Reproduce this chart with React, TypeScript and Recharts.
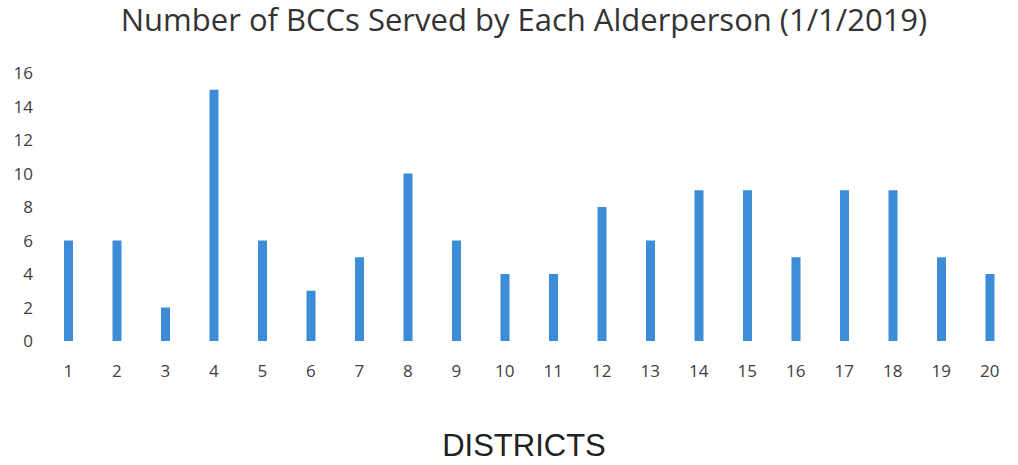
import React from "react";
import { BarChart, Bar, XAxis, YAxis } from "recharts";

const districts = ["1","2","3","4","5","6","7","8","9","10","11","12","13","14","15","16","17","18","19","20"];
const bccCounts = [6, 6, 2, 15, 6, 3, 5, 10, 6, 4, 4, 8, 6, 9, 9, 5, 9, 9, 5, 4];
const yTicks = [0, 2, 4, 6, 8, 10, 12, 14, 16];
const title = "Number of BCCs Served by Each Alderperson (1/1/2019)";
const xTitle = "DISTRICTS";

const data = districts.map((d, i) => ({ district: d, count: bccCounts[i] }));

export default function App() {
  return (
    <div style={{ position: "absolute", left: 0, top: 0, width: 1018, height: 465, background: "#fff", fontFamily: "'Open Sans', sans-serif" }}>
      <div style={{ position: "absolute", left: 0, width: 1048, top: -2, textAlign: "center", fontSize: 31, color: "#333", whiteSpace: "nowrap" }}>{title}</div>
      <BarChart width={1018} height={465} data={data} margin={{ top: 73, right: 4, bottom: 94, left: 0 }}>
        <XAxis dataKey="district" axisLine={false} tickLine={false} tickSize={0} tickMargin={24} interval={0}
          tick={{ fill: "#404040", fontSize: 17, fontFamily: "'Open Sans', sans-serif" }} />
        <YAxis domain={[0, 16]} ticks={yTicks} width={44} axisLine={false} tickLine={false} tickSize={0} tickMargin={11}
          tick={{ fill: "#404040", fontSize: 17, fontFamily: "'Open Sans', sans-serif" }} />
        <Bar dataKey="count" fill="#3d8cd8" barSize={9} isAnimationActive={false} />
      </BarChart>
      <div style={{ position: "absolute", left: 0, width: 1048, top: 428, textAlign: "center", fontSize: 31, color: "#222", fontFamily: "'Liberation Sans', Arial, sans-serif" }}>{xTitle}</div>
    </div>
  );
}
